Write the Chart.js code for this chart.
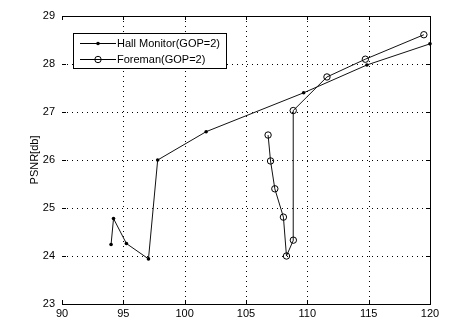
<!DOCTYPE html>
<html>
<head>
<meta charset="utf-8">
<script src="https://cdn.jsdelivr.net/npm/chart.js@4.4.0/dist/chart.umd.min.js"></script>
<style>
  html, body { margin: 0; padding: 0; background: #fff; }
  #wrap { width: 474px; height: 322px; }
</style>
</head>
<body>
<div id="wrap"><canvas id="c" width="474" height="322"></canvas></div>
<script>
// values
const hallX = [94.0, 94.2, 95.25, 97.05, 97.8, 101.75, 109.7, 114.86, 120]
const hallY = [24.24, 24.78, 24.26, 23.94, 26.0, 26.59, 27.4, 27.98, 28.42]
const foreX = [106.8, 107.0, 107.35, 108.05, 108.3, 108.86, 108.85, 111.6, 114.73, 119.5]
const foreY = [26.52, 25.98, 25.4, 24.81, 24.0, 24.33, 27.03, 27.73, 28.1, 28.61]
const seriesNames = ['Hall Monitor(GOP=2)', 'Foreman(GOP=2)']
const xTicks = [90, 95, 100, 105, 110, 115, 120]
const yTicks = [23, 24, 25, 26, 27, 28, 29]

const toPoints = (xs, ys) => xs.map((x, i) => ({ x, y: ys[i] }))
const fontFam = '"Liberation Sans", Arial, sans-serif'

// dotted grid under the lines
const dottedGrid = {
  id: 'dottedGrid',
  beforeDatasetsDraw(chart) {
    const { ctx, chartArea: a, scales } = chart
    ctx.save()
    ctx.strokeStyle = '#000'
    ctx.lineWidth = 1
    ctx.setLineDash([1, 4])
    ctx.beginPath()
    xTicks.slice(1, -1).forEach(v => {
      const px = Math.round(scales.x.getPixelForValue(v)) + 0.5
      ctx.moveTo(px, a.top); ctx.lineTo(px, a.bottom)
    })
    yTicks.slice(1, -1).forEach(v => {
      const py = Math.round(scales.y.getPixelForValue(v)) + 0.5
      ctx.moveTo(a.left, py); ctx.lineTo(a.right, py)
    })
    ctx.stroke()
    ctx.restore()
  }
}

// matlab style box: inward ticks, top/right edge, legend inside axes
const matlabBox = {
  id: 'matlabBox',
  afterDraw(chart) {
    const { ctx, chartArea: a, scales } = chart
    ctx.save()
    ctx.strokeStyle = '#000'
    ctx.lineWidth = 1
    ctx.beginPath()
    ctx.moveTo(a.left, a.top + 0.5); ctx.lineTo(a.right + 0.5, a.top + 0.5)
    ctx.lineTo(a.right + 0.5, a.bottom)
    ctx.stroke()
    ctx.beginPath()
    xTicks.forEach(v => {
      const px = Math.round(scales.x.getPixelForValue(v)) + 0.5
      ctx.moveTo(px, a.bottom); ctx.lineTo(px, a.bottom - 4)
      ctx.moveTo(px, a.top); ctx.lineTo(px, a.top + 4)
    })
    yTicks.forEach(v => {
      const py = Math.round(scales.y.getPixelForValue(v)) + 0.5
      ctx.moveTo(a.left, py); ctx.lineTo(a.left + 4, py)
      ctx.moveTo(a.right, py); ctx.lineTo(a.right - 4, py)
    })
    ctx.stroke()

    // legend
    const lx = 73.5, ly = 33.5, lw = 153, lh = 35
    ctx.fillStyle = '#fff'
    ctx.fillRect(lx, ly, lw, lh)
    ctx.strokeRect(lx, ly, lw, lh)
    ctx.font = '11px ' + fontFam
    ctx.textBaseline = 'middle'
    const rows = [43, 59]
    rows.forEach((ry, i) => {
      ctx.strokeStyle = '#000'
      ctx.beginPath()
      ctx.moveTo(80, ry + 0.5); ctx.lineTo(116, ry + 0.5)
      ctx.stroke()
      if (i === 0) {
        ctx.fillStyle = '#000'
        ctx.beginPath(); ctx.arc(98, ry + 0.5, 1.8, 0, Math.PI * 2); ctx.fill()
      } else {
        ctx.beginPath(); ctx.arc(98, ry + 0.5, 3.2, 0, Math.PI * 2); ctx.stroke()
      }
      ctx.fillStyle = '#000'
      ctx.fillText(seriesNames[i], 117, ry + 1)
    })
    ctx.restore()
  }
}

new Chart(document.getElementById('c'), {
  type: 'line',
  data: {
    datasets: [
      {
        label: seriesNames[0],
        data: toPoints(hallX, hallY),
        borderColor: '#111',
        borderWidth: 1,
        pointRadius: 1.8,
        pointBackgroundColor: '#000',
        pointBorderColor: '#000',
        pointBorderWidth: 0,
        tension: 0
      },
      {
        label: seriesNames[1],
        data: toPoints(foreX, foreY),
        borderColor: '#111',
        borderWidth: 1,
        pointRadius: 3.2,
        pointBackgroundColor: 'rgba(0,0,0,0)',
        pointBorderColor: '#000',
        pointBorderWidth: 1,
        tension: 0
      }
    ]
  },
  options: {
    responsive: false,
    animation: false,
    clip: false,
    layout: { padding: { top: 16, right: 44, left: 0, bottom: 0 } },
    plugins: { legend: { display: false }, tooltip: { enabled: false } },
    scales: {
      x: {
        type: 'linear',
        min: 90, max: 120,
        afterBuildTicks: s => { s.ticks = xTicks.map(v => ({ value: v })) },
        afterFit: s => { s.height = 18 },
        grid: { display: false, drawTicks: false },
        border: { display: true, color: '#000', width: 1 },
        ticks: { color: '#000', padding: 3, font: { family: fontFam, size: 11 }, maxRotation: 0 }
      },
      y: {
        min: 23, max: 29,
        afterBuildTicks: s => { s.ticks = yTicks.map(v => ({ value: v })) },
        afterFit: s => { s.width = 62 },
        grid: { display: false, drawTicks: false },
        border: { display: false },
        ticks: { color: '#000', padding: 7, font: { family: fontFam, size: 11 } },
        title: { display: true, text: 'PSNR[db]', color: '#000', padding: { top: 28, bottom: 0 }, font: { family: fontFam, size: 11 } }
      }
    }
  },
  plugins: [dottedGrid, matlabBox]
})
</script>
</body>
</html>
